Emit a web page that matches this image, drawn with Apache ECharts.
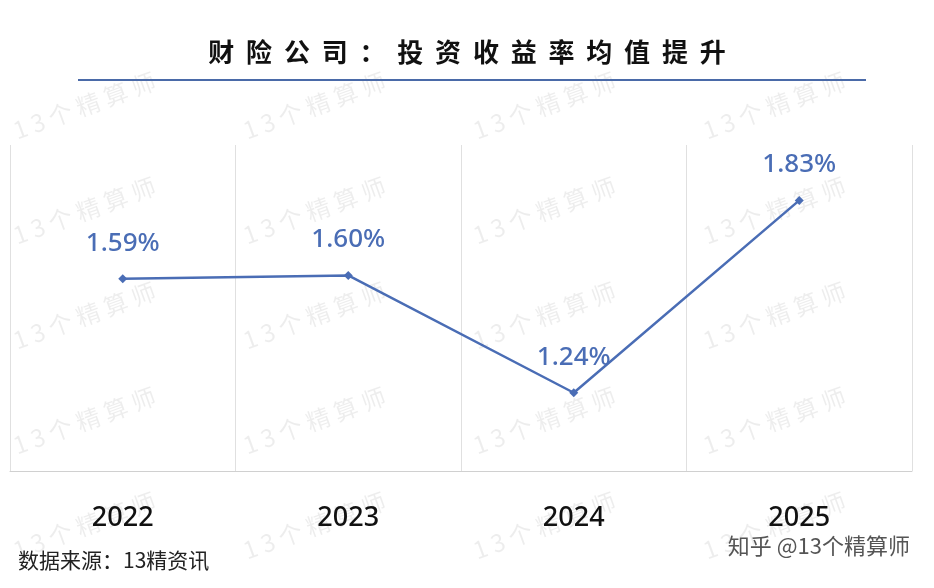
<!DOCTYPE html>
<html><head><meta charset="utf-8">
<script src="https://cdn.jsdelivr.net/npm/echarts@6/dist/echarts.min.js"></script>
<style>html,body{margin:0;padding:0;background:#fff}#c{width:934px;height:588px}</style>
</head><body><div id="c"></div>
<script>
const categories = ['2022','2023','2024','2025'];
const values = [1.59, 1.60, 1.24, 1.83];
const chart = echarts.init(document.getElementById('c'));
const wm = [];
for (let r = 0; r < 5; r++) for (let c = 0; c < 4; c++) {
  wm.push({type:'text', x: 10 + c*230, y: 120 + r*105, rotation: 0.35,
    style:{text:'1 3 个 精 算 师', font:'24px "Noto Sans CJK SC"', fill:'rgba(0,0,0,0.07)'}, z:-1});
}
chart.setOption({
  animation:false,
  title:{text:'财  险  公  司  ：  投  资  收  益  率  均  值  提  升', left:'center', top:34,
    textStyle:{fontSize:26, fontWeight:'bold', color:'#111', fontFamily:'"Noto Sans CJK SC"'}},
  graphic:[
    ...wm,
    {type:'line', shape:{x1:78,y1:80,x2:866,y2:80}, style:{stroke:'#4a6aa8', lineWidth:2}},
    {type:'text', left:18, top:550, style:{text:'数据来源：13精资讯', font:'21px "Noto Sans CJK SC"', fill:'#222'}},
    {type:'text', right:24, top:535, style:{text:'知乎 @13个精算师', font:'22px "Noto Sans CJK SC"', fill:'#555'}}
  ],
  grid:{left:10, right:22, top:145, bottom:117},
  xAxis:{type:'category', data:categories, boundaryGap:true,
    axisLine:{lineStyle:{color:'#d0d0d0'}}, axisTick:{show:false},
    splitLine:{show:true, lineStyle:{color:'#e0e0e0'}},
    axisLabel:{fontSize:27, color:'#111', margin:34, fontFamily:'"Noto Sans"', fontWeight:500}},
  yAxis:{type:'value', min:1, max:2, show:false, splitLine:{show:false}},
  series:[{type:'line', data:values, symbol:'diamond', symbolSize:9,
    lineStyle:{color:'#4a6db5', width:2.5}, itemStyle:{color:'#4a6db5'},
    label:{show:true, position:'top', distance:18, formatter:p=>p.value.toFixed(2)+'%',
      fontSize:26, color:'#4a6db5', fontFamily:'"Noto Sans"', fontWeight:500}}]
});
</script></body></html>
